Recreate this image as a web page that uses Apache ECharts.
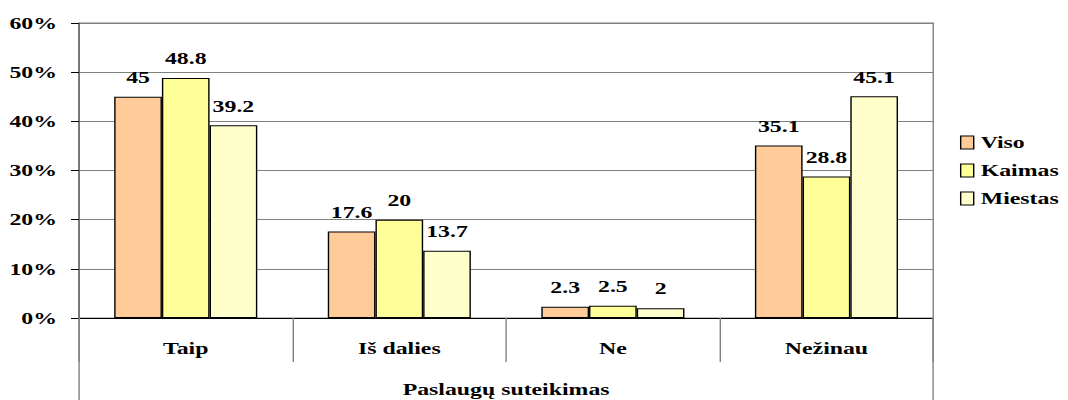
<!DOCTYPE html>
<html>
<head>
<meta charset="utf-8">
<style>
  html, body { margin: 0; padding: 0; background: #fff; overflow: hidden; }
  /* the chart is laid out on a narrower stage and widened to the page,
     giving the broad, horizontally stretched lettering of the figure */
  #chart { width: 763px; height: 400px; transform: scaleX(1.4); transform-origin: 0 0; }
</style>
<script src="https://cdn.jsdelivr.net/npm/echarts@6/dist/echarts.min.js"></script>
</head>
<body>
<div id="chart"></div>
<script>
// Categories and survey shares (%) per group
const categories = ['Taip', 'Iš dalies', 'Ne', 'Nežinau'];
const axisTitle = ['Paslaugų suteikimas'];
const viso = [45, 17.6, 2.3, 35.1];
const kaimas = [48.8, 20, 2.5, 28.8];
const miestas = [39.2, 13.7, 2, 45.1];

const FONT = '"Liberation Serif", "Times New Roman", serif';
const textBase = { fontFamily: FONT, fontWeight: 'bold', fontSize: 17, color: '#000' };

function barSeries(name, data, color) {
  return {
    name: name,
    type: 'bar',
    data: data,
    barGap: '0%',
    barCategoryGap: '33%',
    itemStyle: { color: color, borderColor: '#000', borderWidth: 1 },
    label: {
      show: true,
      position: 'top',
      distance: 11,
      ...textBase
    }
  };
}

const chart = echarts.init(document.getElementById('chart'), null, { renderer: 'svg' });
chart.setOption({
  animation: false,
  backgroundColor: '#fff',
  grid: {
    left: 56.4, right: 96.4, top: 23, bottom: 82,
    outerBoundsMode: 'none',
    containLabel: false,
    show: true, borderColor: '#808080', borderWidth: 1
  },
  legend: {
    orient: 'vertical',
    left: 685.7,
    top: 134,
    padding: 0,
    itemWidth: 9.3,
    itemHeight: 13,
    itemGap: 11,
    icon: 'rect',
    itemStyle: { borderColor: '#000', borderWidth: 1 },
    textStyle: { ...textBase, lineHeight: 17 },
    data: ['Viso', 'Kaimas', 'Miestas']
  },
  xAxis: [
    {
      type: 'category',
      data: categories,
      position: 'bottom',
      axisLine: { show: true, lineStyle: { color: '#000', width: 1 } },
      axisTick: { show: true, interval: 0, length: 44, lineStyle: { color: '#808080' } },
      axisLabel: { margin: 22, ...textBase },
      splitLine: { show: false }
    },
    {
      type: 'category',
      data: axisTitle,
      position: 'bottom',
      axisLine: { show: false },
      axisTick: { show: true, length: 82, lineStyle: { color: '#808080' } },
      axisLabel: { margin: 63, ...textBase },
      splitLine: { show: false }
    }
  ],
  yAxis: {
    type: 'value',
    min: 0, max: 60, interval: 10,
    axisLine: { show: true, lineStyle: { color: '#666' } },
    axisTick: { show: true, length: 5.7, lineStyle: { color: '#000' } },
    axisLabel: { margin: 15.7, formatter: '{value}%', ...textBase },
    splitLine: { show: true, lineStyle: { color: '#808080', width: 1 } }
  },
  series: [
    barSeries('Viso', viso, '#FFCC99'),
    barSeries('Kaimas', kaimas, '#FFFF99'),
    barSeries('Miestas', miestas, '#FFFFCC')
  ]
});
</script>
</body>
</html>
